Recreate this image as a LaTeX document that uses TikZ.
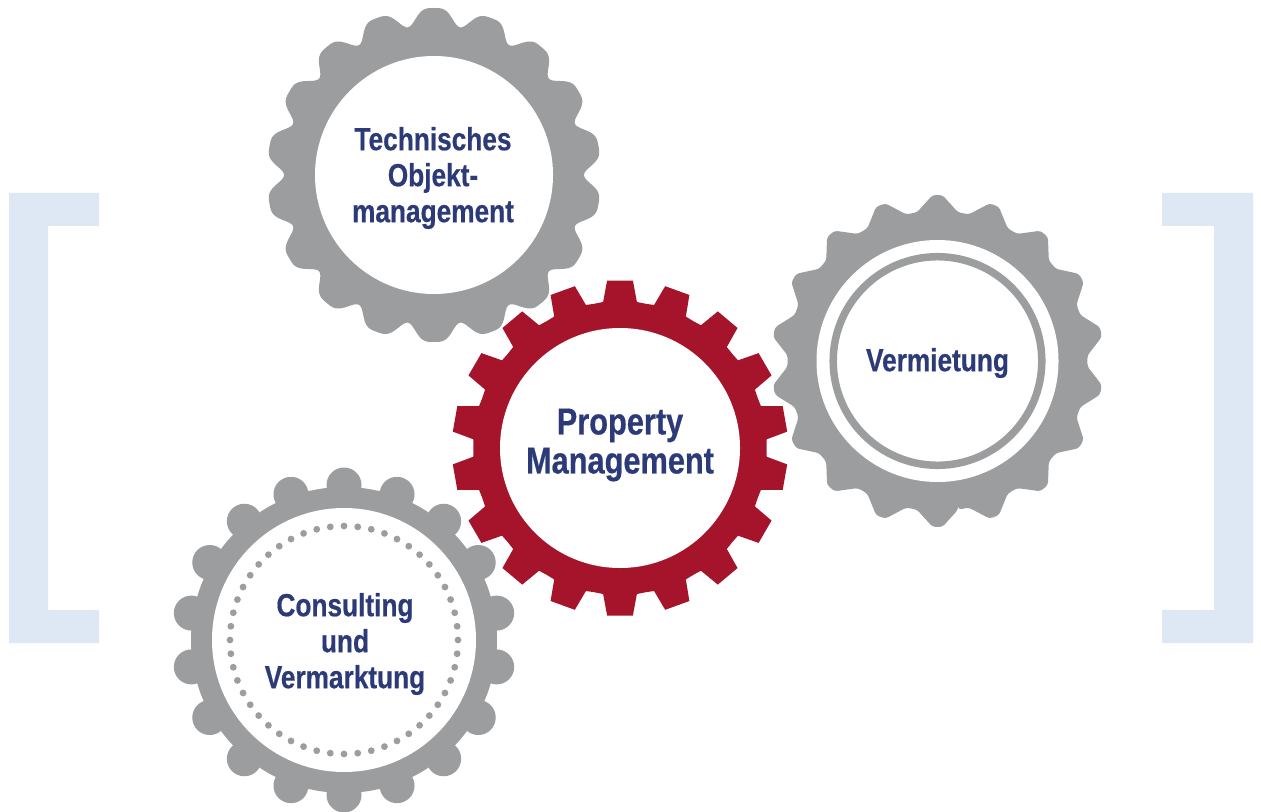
\documentclass[tikz,border=0pt]{standalone}
\usepackage{fontspec}
\newfontfamily\gearfont{Liberation Sans}[FakeStretch=0.82,FakeBold=0.5]
\definecolor{geargray}{HTML}{9C9D9F}
\definecolor{gearred}{HTML}{A6142B}
\definecolor{textblue}{HTML}{2C3B78}
\definecolor{bracketblue}{HTML}{DDE8F4}
\tikzset{
  gearlabel/.style={text=textblue,font=\gearfont\bfseries\fontsize{16}{18}\selectfont,align=center,inner sep=0pt},
  biglabel/.style={text=textblue,font=\gearfont\bfseries\fontsize{18.75}{19.5}\selectfont,align=center,inner sep=0pt},
  bracketfill/.style={fill=bracketblue},
}
\begin{document}
\begin{tikzpicture}[x=0.5pt,y=-0.5pt]
\useasboundingbox (0,0) rectangle (1261,812);
\fill[white] (0,0) rectangle (1261,812);
% brackets
\fill[bracketfill] (9,193) -- (99,193) -- (99,226) -- (48,226) -- (48,610) -- (99,610) -- (99,643) -- (9,643) -- cycle;
\fill[bracketfill] (1253,193) -- (1162,193) -- (1162,226) -- (1214,226) -- (1214,610) -- (1162,610) -- (1162,643) -- (1253,643) -- cycle;
% top gear (scalloped)
\begin{scope}[shift={(434,175)}]
  \fill[geargray] plot[domain=0:360,samples=721,variable=\t] (\t:{150+8.5*(cos(18*(\t-90))-0.25*cos(36*(\t-90))+1.25)});
  \fill[white] (0,0) circle (119);
\end{scope}
% right gear
\begin{scope}[shift={(937.5,361)}]
  \fill[geargray,rounded corners=1.5pt] (90-7.9:150) \foreach \k in {0,...,17}{ -- ({90+20*\k-7.9}:150) -- ({90+20*\k-1.7}:166) -- ({90+20*\k+1.7}:166) -- ({90+20*\k+7.9}:150)} -- cycle;
  \fill[white] (0,0) circle (121);
  \draw[geargray,line width=3.75pt] (0,0) circle (104.3);
\end{scope}
% bottom-left gear
\begin{scope}[shift={(344,640)}]
  \fill[geargray] (0,0) circle (153);
  \foreach \k in {0,...,17}{ \fill[geargray] ({90+20*\k}:155) circle (17.5); }
  \fill[white] (0,0) circle (132);
  \foreach \i in {0,...,51}{ \fill[geargray] ({\i*6.9231}:114) circle (3.4); }
\end{scope}
% red gear
\begin{scope}[shift={(620,448)}]
  \fill[gearred] (90-6.6:147) \foreach \k in {0,...,17}{ -- ({90+20*\k-6.6}:147) -- ({90+20*\k-4.4}:168) -- ({90+20*\k+4.4}:168) -- ({90+20*\k+6.6}:147) -- ({90+20*\k+10}:146.5)} -- cycle;
  \fill[white] (0,0) circle (120);
\end{scope}
% labels
\node[gearlabel] (tom) at (433,178) {Technisches\\Objekt-\\management};
\node[biglabel] (pm) at (620,445) {Property\\Management};
\node[gearlabel] (verm) at (937.5,363) {Vermietung};
\node[gearlabel] (cuv) at (345,644) {Consulting\\und\\Vermarktung};
\end{tikzpicture}
\end{document}
